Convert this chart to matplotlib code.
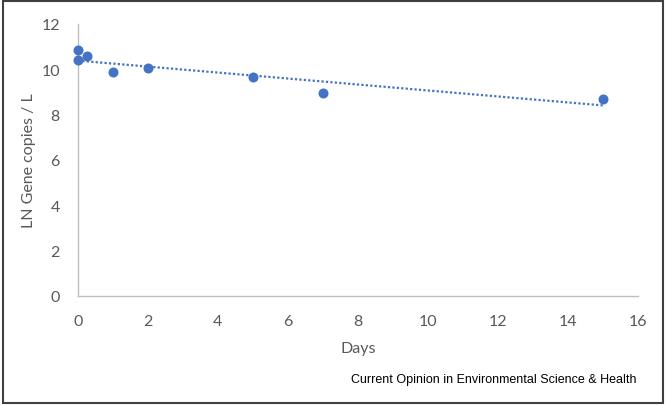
import numpy as np
import matplotlib.pyplot as plt
from matplotlib.patches import Rectangle

# Datos
days = [0, 0, 0.25, 1, 2, 5, 7, 15]
ln_copies = [10.85, 10.4, 10.6, 9.88, 10.05, 9.65, 8.95, 8.7]

x_ticks = [0, 2, 4, 6, 8, 10, 12, 14, 16]
y_ticks = [0, 2, 4, 6, 8, 10, 12]

blue = "#4472C4"
grey_txt = "#595959"

fig = plt.figure(figsize=(6.66, 4.06), dpi=100)
ax = fig.add_axes([0.117, 0.2685, 0.841, 0.67])

ax.scatter(days, ln_copies, s=52, color=blue, zorder=3, linewidths=0, clip_on=False)

# Línea de tendencia lineal
m, b = np.polyfit(days, ln_copies, 1)
xt = np.array([min(days), max(days)])
ax.plot(xt, m * xt + b, linestyle=(0, (1, 1)), color=blue, lw=1.6, zorder=2)

ax.set_xlim(0, 16)
ax.set_ylim(0, 12)
ax.set_xticks(x_ticks)
ax.set_yticks(y_ticks)
ax.tick_params(axis="x", length=0, labelsize=11.5, labelcolor=grey_txt, pad=13)
ax.tick_params(axis="y", length=0, labelsize=11.5, labelcolor=grey_txt, pad=13)
for lab in ax.get_xticklabels() + ax.get_yticklabels():
    lab.set_family("Lato")

for s in ["top", "right"]:
    ax.spines[s].set_visible(False)
for s in ["left", "bottom"]:
    ax.spines[s].set_color("#BFBFBF")
    ax.spines[s].set_linewidth(1.0)

ax.set_xlabel("Days", fontsize=11.5, color=grey_txt, family="Lato", labelpad=9)
ax.set_ylabel("LN Gene copies / L", fontsize=11.5, color=grey_txt, family="Lato", labelpad=4)

fig.text(0.955, 0.064, "Current Opinion in Environmental Science & Health",
         ha="right", va="center", fontsize=9, family="Liberation Sans", color="black")

fig.patches.append(Rectangle((0.004, 0.005), 0.991, 0.99, transform=fig.transFigure,
                             fill=False, edgecolor="#404040", lw=1.5))

fig.savefig("out.png", dpi=100)
